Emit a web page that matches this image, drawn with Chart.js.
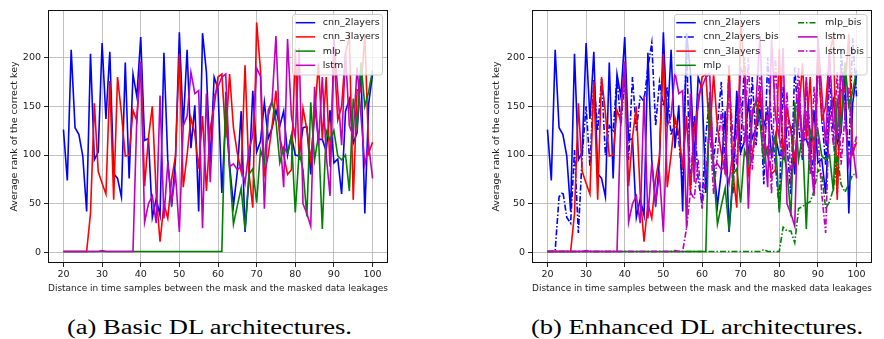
<!DOCTYPE html>
<html><head><meta charset="utf-8">
<script src="https://cdn.jsdelivr.net/npm/chart.js@4.4.1/dist/chart.umd.min.js"></script>
<style>
html,body{margin:0;padding:0;background:#fff;width:884px;height:339px;overflow:hidden;}
.box{position:absolute;top:0;width:442px;height:300px;}
.cap{position:absolute;top:317px;font-family:"Liberation Serif",serif;font-size:20px;line-height:20px;white-space:nowrap;color:#000;transform-origin:left top;}
</style></head><body>
<div class="box" style="left:0"><canvas id="c1" width="442" height="300"></canvas></div>
<div class="box" style="left:442px"><canvas id="c2" width="442" height="300"></canvas></div>
<span id="capA" class="cap">(a) Basic DL architectures.</span>
<span id="capB" class="cap">(b) Enhanced DL architectures.</span>
<script>
const distances = [20,21,22,23,24,25,26,27,28,29,30,31,32,33,34,35,36,37,38,39,40,41,42,43,44,45,46,47,48,49,50,51,52,53,54,55,56,57,58,59,60,61,62,63,64,65,66,67,68,69,70,71,72,73,74,75,76,77,78,79,80,81,82,83,84,85,86,87,88,89,90,91,92,93,94,95,96,97,98,99,100];
const xTickValues = [20,30,40,50,60,70,80,90,100];
const yTickValues = [0,50,100,150,200];
const xTitle = "Distance in time samples between the mask and the masked data leakages";
const yTitle = "Average rank of the correct key";

const cnn_2layers = [126,74,208,128,121,99,42,204,95,103,
 215,137,206,81,76,57,195,76,183,160,
 221,115,117,36,55,38,205,95,47,96,
 226,129,208,107,151,42,225,185,92,180,
 168,61,140,90,48,83,145,21,75,166,
 103,114,154,117,128,146,130,145,100,120,
 100,99,128,129,80,153,116,116,104,146,
 92,96,60,145,157,112,123,190,40,153,
 183];
const cnn_3layers = [1,1,1,1,1,1,1,40,153,83,
 71,60,176,54,180,143,99,100,146,135,
 196,68,118,150,60,11,50,35,75,99,
 204,67,100,138,122,86,140,63,128,150,
 180,183,118,183,128,102,83,192,82,46,
 236,187,80,100,130,166,118,100,80,85,
 209,95,148,126,95,140,194,116,180,88,
 205,136,150,205,221,54,167,165,224,102,
 113];
const mlp = [1,1,1,1,1,1,1,1,1,1,
 1,1,1,1,1,1,1,1,1,1,
 1,1,1,1,1,1,1,1,1,1,
 1,1,1,1,1,1,1,1,1,1,
 1,1,165,85,29,48,66,23,80,86,
 51,105,92,140,155,135,92,108,102,120,
 41,103,85,37,154,95,120,24,125,115,
 125,99,95,100,63,158,130,195,150,165,
 187];
const lstm = [1,1,1,1,1,1,1,1,1,1,
 2,1,1,1,1,1,1,1,1,140,
 195,31,50,58,30,161,35,92,52,80,
 21,130,140,185,163,166,25,163,72,160,
 170,180,183,88,91,85,88,71,105,120,
 189,181,45,146,155,222,120,67,219,140,
 118,210,50,40,27,170,110,180,100,58,
 220,165,110,205,130,120,190,140,90,110,
 76];
const cnn_2layers_bis = [1,1,2,57,62,36,30,105,20,100,
 150,88,177,125,178,100,130,125,180,130,
 180,95,180,125,160,155,190,215,130,175,
 150,170,120,135,115,70,215,60,140,75,
 50,120,160,95,130,175,85,190,60,150,
 100,200,95,180,110,160,70,200,130,90,
 45,170,110,60,190,130,95,175,120,65,
 200,140,90,180,120,60,210,150,100,220,
 160];
const mlp_bis = [1,1,1,1,1,1,1,1,1,1,
 1,1,1,1,1,1,1,1,1,1,
 1,1,1,1,1,1,1,1,1,1,
 1,1,1,1,1,1,1,1,1,1,
 1,1,1,1,1,1,1,1,1,1,
 1,1,1,1,1,1,3,1,1,1,
 1,26,22,22,10,45,47,50,52,63,
 85,80,45,52,65,100,70,62,70,80,
 80];
const lstm_bis = [1,1,1,1,1,1,1,1,1,1,
 1,1,1,1,1,1,1,1,1,1,
 1,1,1,1,1,1,1,1,1,1,
 1,1,1,2,1,1,25,62,55,95,
 45,80,130,60,100,145,80,175,120,90,
 160,110,200,85,140,180,100,150,60,200,
 120,95,165,70,130,190,100,145,80,170,
 120,60,20,150,110,185,90,140,170,100,
 120];

const BLUE='#0000ff', RED='#ff0000', GREEN='#008000', MAG='#bf00bf';
const DASHDOT=[6,2,1.5,2];

const setsA = [
 {name:'cnn_2layers', values:cnn_2layers, color:BLUE, dash:[]},
 {name:'cnn_3layers', values:cnn_3layers, color:RED, dash:[]},
 {name:'mlp', values:mlp, color:GREEN, dash:[]},
 {name:'lstm', values:lstm, color:MAG, dash:[]}
];
const setsB = [
 {name:'cnn_2layers', values:cnn_2layers, color:BLUE, dash:[]},
 {name:'cnn_2layers_bis', values:cnn_2layers_bis, color:BLUE, dash:DASHDOT},
 {name:'cnn_3layers', values:cnn_3layers, color:RED, dash:[]},
 {name:'mlp', values:mlp, color:GREEN, dash:[]},
 {name:'mlp_bis', values:mlp_bis, color:GREEN, dash:DASHDOT},
 {name:'lstm', values:lstm, color:MAG, dash:[]},
 {name:'lstm_bis', values:lstm_bis, color:MAG, dash:DASHDOT}
];

const FONT='DejaVu Sans';
// fit the font size so the x title spans the same width as in the reference
const mctx=document.createElement('canvas').getContext('2d');
mctx.font='10px "'+FONT+'"';
const FS=Math.min(10.6, Math.max(9, 10*362/mctx.measureText(xTitle).width));
const TXT='#1a1a1a';

const framePlugin = {
  id:'frame',
  afterDatasetsDraw(chart){
    const {ctx, chartArea:a} = chart;
    ctx.save();
    ctx.strokeStyle='#111'; ctx.lineWidth=1; ctx.setLineDash([]);
    const l=Math.round(a.left)+0.5, t=Math.round(a.top)+0.5, r=Math.round(a.right)-0.5, b=Math.round(a.bottom)-0.5;
    ctx.strokeRect(l,t,r-l,b-t);
    ctx.restore();
  }
};

const legendPlugin = {
  id:'mplLegend',
  afterDraw(chart, args, o){
    const {ctx} = chart;
    const ds = chart.data.datasets;
    ctx.save();
    const rr=(x,y,w,h,r)=>{ctx.beginPath();ctx.moveTo(x+r,y);ctx.lineTo(x+w-r,y);ctx.quadraticCurveTo(x+w,y,x+w,y+r);ctx.lineTo(x+w,y+h-r);ctx.quadraticCurveTo(x+w,y+h,x+w-r,y+h);ctx.lineTo(x+r,y+h);ctx.quadraticCurveTo(x,y+h,x,y+h-r);ctx.lineTo(x,y+r);ctx.quadraticCurveTo(x,y,x+r,y);ctx.closePath();};
    rr(o.x,o.y,o.w,o.h,2.5);
    ctx.globalAlpha=0.8; ctx.fillStyle='#fff'; ctx.fill();
    ctx.globalAlpha=1; ctx.strokeStyle='#cccccc'; ctx.lineWidth=1; ctx.stroke();
    ctx.font = FS+'px "'+FONT+'"';
    ctx.textBaseline='middle'; ctx.textAlign='left';
    ds.forEach((d,i)=>{
      const col = Math.floor(i/o.rows), row = i%o.rows;
      const cx = o.cols[col];
      const y = o.firstY + row*o.step;
      ctx.strokeStyle=d.borderColor; ctx.lineWidth=1.5; ctx.setLineDash(d.borderDash||[]);
      ctx.beginPath(); ctx.moveTo(cx, y); ctx.lineTo(cx+o.lineLen, y); ctx.stroke();
      ctx.setLineDash([]);
      ctx.fillStyle=TXT; ctx.fillText(d.label, cx+o.textGap, y);
    });
    ctx.restore();
  }
};

function makeChart(id, sets, cfg){
  return new Chart(document.getElementById(id), {
    type:'line',
    data:{datasets: sets.map((s,i)=>({
      label:s.name,
      data: distances.map((d,k)=>({x:d, y:s.values[k]})),
      borderColor:s.color, borderWidth:1.6, borderDash:s.dash,
      pointRadius:0, fill:false, tension:0, order: sets.length-i
    }))},
    options:{
      responsive:false, animation:false, devicePixelRatio:1,
      layout:{padding:{left:cfg.padLeft, right:cfg.padRight, top:10, bottom:0}},
      plugins:{legend:{display:false}, tooltip:{enabled:false}, mplLegend:cfg.legend},
      scales:{
        x:{type:'linear', min:16, max:104,
           afterBuildTicks:s=>{s.ticks=xTickValues.map(v=>({value:v}));},
           afterFit:s=>{s.height=37;},
           grid:{color:'#b0b0b0', lineWidth:0.8, tickLength:4, tickColor:'#222', tickWidth:1},
           border:{display:false},
           ticks:{font:{family:FONT,size:FS}, color:TXT, padding:2, maxRotation:0, autoSkip:false},
           title:{display:true, text:xTitle, font:{family:FONT,size:FS}, color:TXT, padding:{top:0,bottom:6}}},
        y:{type:'linear', min:-10.8, max:248.8,
           afterBuildTicks:s=>{s.ticks=yTickValues.map(v=>({value:v}));},
           afterFit:s=>{s.width=cfg.yWidth;},
           grid:{color:'#b0b0b0', lineWidth:0.8, tickLength:4, tickColor:'#222', tickWidth:1},
           border:{display:false},
           ticks:{font:{family:FONT,size:FS}, color:TXT, padding:3, autoSkip:false},
           title:{display:true, text:yTitle, font:{family:FONT,size:FS}, color:TXT, padding:{top:9,bottom:0}}}
      }
    },
    plugins:[framePlugin, legendPlugin]
  });
}

makeChart('c1', setsA, {padLeft:0, padRight:54, yWidth:48,
  legend:{x:292.5, y:14.5, w:90, h:60.5, rows:4, cols:[295.7], firstY:22.7, step:14.2, lineLen:19.5, textGap:27}});
makeChart('c2', setsB, {padLeft:40, padRight:12, yWidth:50,
  legend:{x:232.5, y:14.5, w:192.5, h:60.5, rows:4, cols:[234.3, 356], firstY:22.7, step:14.2, lineLen:19.5, textGap:27}});

// captions
const capA=document.getElementById('capA'), capB=document.getElementById('capB');
const wA=capA.getBoundingClientRect().width;
const sx=285/wA;
capA.style.left='67px'; capA.style.transform='scaleX('+sx+')';
const wB=capB.getBoundingClientRect().width*sx;
capB.style.left=(697-wB/2)+'px'; capB.style.transform='scaleX('+sx+')';
</script>
</body></html>
